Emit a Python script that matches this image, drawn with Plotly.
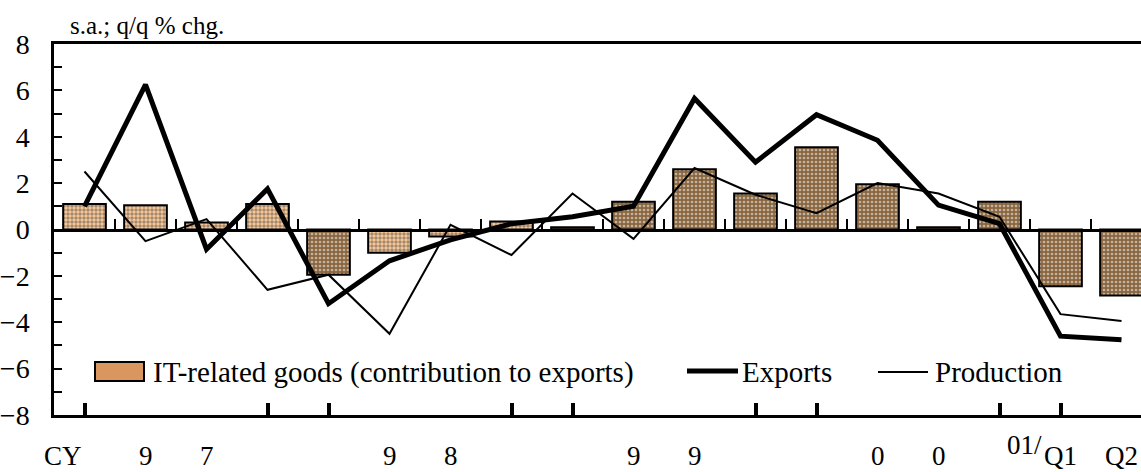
import plotly.graph_objects as go

# ---------------- data ----------------
quarters = ["97Q1", "97Q2", "97Q3", "97Q4", "98Q1", "98Q2", "98Q3", "98Q4",
            "99Q1", "99Q2", "99Q3", "99Q4", "00Q1", "00Q2", "00Q3", "00Q4",
            "01Q1", "01Q2"]
it_goods = [1.1, 1.05, 0.3, 1.1, -1.95, -1.0, -0.3, 0.35, 0.1,
            1.2, 2.6, 1.55, 3.55, 1.95, 0.1, 1.2, -2.45, -2.85]
exports = [1.0, 6.25, -0.85, 1.75, -3.2, -1.35, -0.45, 0.25, 0.55,
           1.0, 5.65, 2.9, 4.95, 3.85, 1.05, 0.25, -4.6, -4.75]
production = [2.5, -0.5, 0.45, -2.6, -1.95, -4.5, 0.2, -1.1, 1.55,
              -0.4, 2.65, 1.5, 0.7, 2.0, 1.55, 0.55, -3.65, -3.95]

bottom_label_text = ["9", "7", "9", "8", "9", "9", "0", "0", "Q1", "Q2"]
bottom_label_idx = [1, 2, 5, 6, 9, 10, 13, 14, 16, 17]
year_tick_idx = [0, 3, 4, 7, 8, 11, 12, 15, 16]
y_ticks = [-8, -6, -4, -2, 0, 2, 4, 6, 8]

series_names = ["IT-related goods (contribution to exports)", "Exports", "Production"]
unit_text = "s.a.; q/q % chg."

# ---------------- styling ----------------
W, H = 1141, 472
L, T, B = 54, 43.5, 57
plot_w = W - L
plot_h = H - T - B
bottom_px = H - B
cat_px = 61.0
x_end = -0.5 + plot_w / cat_px

FONT = "Liberation Serif"
orange_bg, orange_fg = "#FFCC99", "#000000"
brown_bg, brown_fg = "#8A6640", "#E8C89A"
orange_set = {0, 1, 2, 3, 5, 6, 7}

bg = [orange_bg if i in orange_set else brown_bg for i in range(len(quarters))]
fg = [orange_fg if i in orange_set else brown_fg for i in range(len(quarters))]
sol = [0.6 if i in orange_set else 0.35 for i in range(len(quarters))]


def px2x(px):
    return (px - L) / plot_w


def py2y(py):
    return (bottom_px - py) / plot_h


fig = go.Figure()

fig.add_trace(go.Bar(
    x=quarters, y=it_goods, name=series_names[0], width=0.7,
    marker=dict(color=bg, line=dict(color="black", width=2),
                pattern=dict(shape=".", bgcolor=bg, fgcolor=fg, size=4,
                             solidity=sol, fillmode="overlay")),
    showlegend=False,
))
fig.add_trace(go.Scatter(
    x=quarters, y=exports, name=series_names[1], mode="lines",
    line=dict(color="black", width=5), showlegend=False,
))
fig.add_trace(go.Scatter(
    x=quarters, y=production, name=series_names[2], mode="lines",
    line=dict(color="black", width=2), showlegend=False,
))

# overlay axis carrying the zero line with its small category-boundary ticks
fig.add_trace(go.Scatter(x=[None], y=[None], xaxis="x2", showlegend=False,
                         hoverinfo="skip"))

fig.update_layout(
    width=W, height=H,
    margin=dict(l=L, r=0, t=T, b=B, pad=0),
    paper_bgcolor="white", plot_bgcolor="white",
    font=dict(family=FONT, color="black", size=28),
    bargap=0.3,
    xaxis=dict(
        type="category", range=[-0.5, x_end], showgrid=False, zeroline=False,
        showline=True, linecolor="black", linewidth=2.5, mirror=True,
        ticks="inside", tickmode="array",
        tickvals=[quarters[i] for i in year_tick_idx],
        ticklen=12, tickwidth=4, tickcolor="black",
        showticklabels=False,
    ),
    xaxis2=dict(
        type="linear", overlaying="x", anchor="free", position=0.5,
        side="bottom", range=[-0.5, x_end], showgrid=False, zeroline=False,
        showline=True, linecolor="black", linewidth=2.5,
        ticks="inside", tickmode="array",
        tickvals=[i + 0.5 for i in range(len(quarters))],
        ticklen=10, tickwidth=2, tickcolor="black", showticklabels=False,
    ),
    yaxis=dict(
        range=[-8, 8], showgrid=False, zeroline=False,
        showline=True, linecolor="black", linewidth=2.5, mirror=False,
        ticks="inside", tickmode="array", tickvals=y_ticks,
        ticklen=8, tickwidth=1.5, tickcolor="black",
        minor=dict(dtick=1, ticks="inside", ticklen=8, tickwidth=1.5,
                   tickcolor="black"),
        tickfont=dict(size=28, family=FONT),
        ticklabelstandoff=16,
    ),
)

annotations = []
# unit label
annotations.append(dict(xref="paper", yref="paper", x=px2x(68), y=py2y(25),
                        xanchor="left", yanchor="middle", text=unit_text,
                        showarrow=False, font=dict(size=25, family=FONT)))
# bottom labels
label_y = py2y(456)
annotations.append(dict(xref="x", yref="paper", x=quarters[0], y=label_y,
                        xanchor="center", yanchor="middle", xshift=-22,
                        text="CY", showarrow=False,
                        font=dict(size=27, family=FONT)))
for t, i in zip(bottom_label_text, bottom_label_idx):
    annotations.append(dict(xref="x", yref="paper", x=quarters[i], y=label_y,
                            xanchor="center", yanchor="middle", text=t,
                            showarrow=False, font=dict(size=27, family=FONT)))
annotations.append(dict(xref="x", yref="paper", x=quarters[16], y=py2y(445),
                        xanchor="right", yanchor="middle", xshift=-17,
                        text="01/", showarrow=False,
                        font=dict(size=27, family=FONT)))

# legend (drawn manually to match the original's wide swatches)
leg_y = py2y(372)
annotations.append(dict(xref="paper", yref="paper", x=px2x(151), y=leg_y,
                        xanchor="left", yanchor="middle", text=series_names[0],
                        showarrow=False, font=dict(size=29, family=FONT)))
annotations.append(dict(xref="paper", yref="paper", x=px2x(740), y=leg_y,
                        xanchor="left", yanchor="middle", text=series_names[1],
                        showarrow=False, font=dict(size=29, family=FONT)))
annotations.append(dict(xref="paper", yref="paper", x=px2x(933), y=leg_y,
                        xanchor="left", yanchor="middle", text=series_names[2],
                        showarrow=False, font=dict(size=29, family=FONT)))

shapes = [
    dict(type="rect", xref="paper", yref="paper",
         x0=px2x(95), x1=px2x(144), y0=py2y(381), y1=py2y(362),
         fillcolor="#D9965E", line=dict(color="black", width=2)),
    dict(type="line", xref="paper", yref="paper",
         x0=px2x(687), x1=px2x(738), y0=py2y(371), y1=py2y(371),
         line=dict(color="black", width=5)),
    dict(type="line", xref="paper", yref="paper",
         x0=px2x(878), x1=px2x(928), y0=py2y(372), y1=py2y(372),
         line=dict(color="black", width=2)),
]

fig.update_layout(annotations=annotations, shapes=shapes)

fig.write_html("out.html",
               config={"displayModeBar": False},
               post_script="document.body.style.margin='0';"
                           "document.body.style.overflow='hidden';")
